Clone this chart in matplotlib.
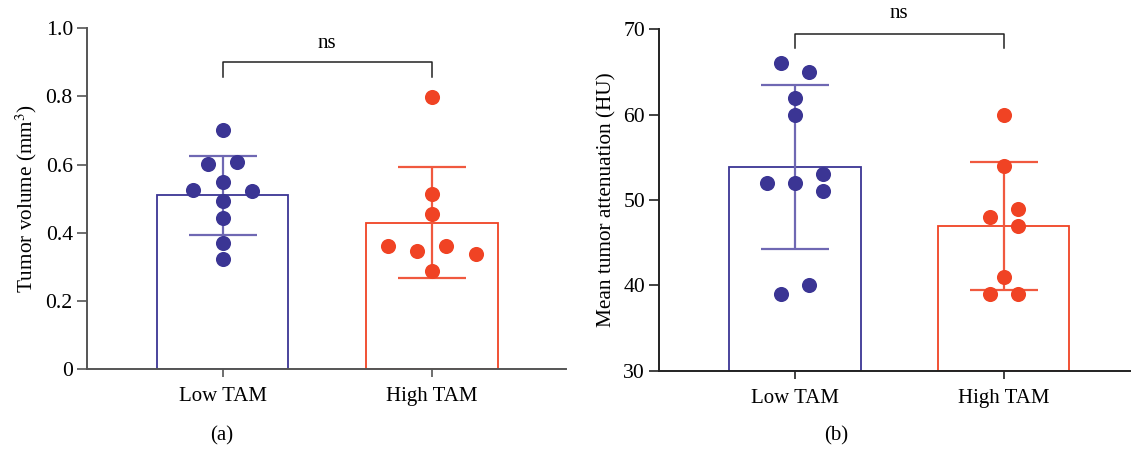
import matplotlib
matplotlib.use('Agg')
import matplotlib.pyplot as plt
import numpy as np

# 两组 TAM 的肿瘤体积 / 平均衰减值对比
groups = ['Low TAM', 'High TAM']

# (a) 肿瘤体积 (mm3)
vol_low = [0.703, 0.601, 0.607, 0.550, 0.527, 0.524, 0.494, 0.444, 0.369, 0.323]
vol_low_dx = [0, -0.07, 0.07, 0, -0.14, 0.14, 0, 0, 0, 0]
vol_high = [0.798, 0.515, 0.455, 0.363, 0.347, 0.361, 0.337, 0.288]
vol_high_dx = [0, 0, 0, -0.21, -0.07, 0.07, 0.21, 0]
vol_mean = [0.51, 0.43]
vol_sd = [0.115, 0.163]

# (b) 平均衰减值 (HU)
hu_low = [66, 65, 62, 60, 52, 52, 53, 51, 39, 40]
hu_low_dx = [-0.067, 0.067, 0, 0, -0.134, 0, 0.134, 0.134, -0.067, 0.067]
hu_high = [60, 54, 48, 49, 47, 41, 39, 39]
hu_high_dx = [0, 0, -0.067, 0.067, 0.067, 0, -0.067, 0.067]
hu_mean = [53.9, 46.9]
hu_sd = [9.6, 7.5]

blue = '#3b3594'
red = '#f04324'
blue_err = '#6f68b3'
red_err = '#f0593f'

plt.rcParams['font.family'] = ['Liberation Serif', 'DejaVu Serif']
plt.rcParams['mathtext.fontset'] = 'stix'


def draw_panel(ax, low, low_dx, high, high_dx, mean, sd, ylim, yticks, yticklabels,
               ylabel, ns_y, ns_leg, ns_text_y, xright, axcolor):
    colors = [blue, red]
    errc = [blue_err, red_err]
    x = np.arange(len(groups))
    ax.bar(x, np.array(mean) - ylim[0], bottom=ylim[0], width=0.63, facecolor='white',
           edgecolor=colors, linewidth=1.3, zorder=2)
    for i in range(len(groups)):
        ax.errorbar(x[i], mean[i], yerr=sd[i], color=errc[i], capsize=24.5, capthick=1.6,
                    elinewidth=1.6, zorder=3)
    ax.scatter(x[0] + np.array(low_dx), low, s=118, color=blue, zorder=4, linewidths=0)
    ax.scatter(x[1] + np.array(high_dx), high, s=118, color=red, zorder=4, linewidths=0)

    # ns 标注
    ax.plot([0, 0, 1, 1], [ns_leg, ns_y, ns_y, ns_leg], color='#222222', lw=1.1, clip_on=False)
    ax.text(0.5, ns_text_y, 'ns', ha='center', va='center', fontsize=15, clip_on=False)

    ax.set_xlim(-0.65, xright)
    ax.set_ylim(*ylim)
    ax.set_xticks(x)
    ax.set_xticklabels(groups, fontsize=15)
    ax.set_yticks(yticks)
    ax.set_yticklabels(yticklabels, fontsize=15.7)
    ax.set_ylabel(ylabel, fontsize=15.3, labelpad=5)
    for s in ['top', 'right']:
        ax.spines[s].set_visible(False)
    for s in ['left', 'bottom']:
        ax.spines[s].set_color(axcolor)
        ax.spines[s].set_linewidth(1.4)
    ax.tick_params(axis='y', length=7, width=1.2, color=axcolor, pad=3)
    ax.tick_params(axis='x', length=6, width=1.2, color=axcolor, pad=7)


fig = plt.figure(figsize=(11.31, 4.49), dpi=100)
ax1 = fig.add_axes([0.0767, 0.1775, 0.4233, 0.7595])
ax2 = fig.add_axes([0.5827, 0.1744, 0.4173, 0.7603])

draw_panel(ax1, vol_low, vol_low_dx, vol_high, vol_high_dx, vol_mean, vol_sd,
           (0, 1.0), [0, 0.2, 0.4, 0.6, 0.8, 1.0], ['0', '0.2', '0.4', '0.6', '0.8', '1.0'],
           r'Tumor volume (mm$^3$)', 0.900, 0.856, 0.956, 1.64, '#555555')
draw_panel(ax2, hu_low, hu_low_dx, hu_high, hu_high_dx, hu_mean, hu_sd,
           (30, 70), [30, 40, 50, 60, 70], ['30', '40', '50', '60', '70'],
           'Mean tumor attenuation (HU)', 69.48, 67.85, 71.8, 1.61, '#222222')

fig.text(222 / 1131, 1 - 436 / 449, '(a)', ha='center', va='center', fontsize=15)
fig.text(836 / 1131, 1 - 436 / 449, '(b)', ha='center', va='center', fontsize=15)

plt.savefig('out.png', dpi=100)
